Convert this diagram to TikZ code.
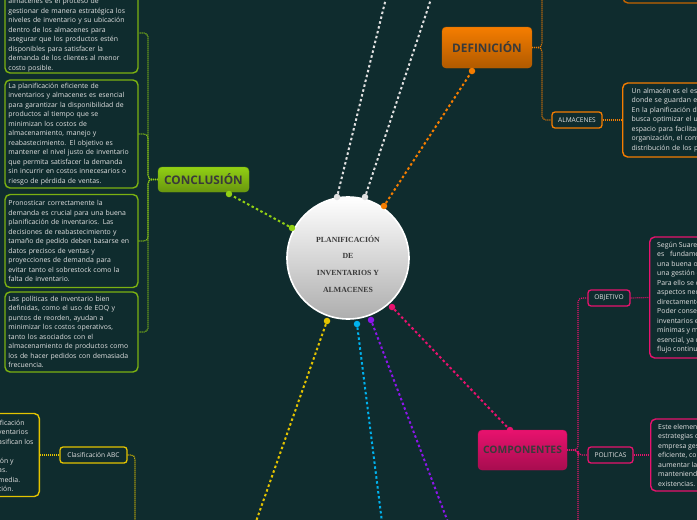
\documentclass[tikz,border=0pt]{standalone}
\usepackage{fontspec}
\setmainfont{Open Sans}
\newfontfamily\serifa{Liberation Serif}
\usetikzlibrary{calc}
\definecolor{fondo}{RGB}{15,44,46}
\definecolor{lima}{RGB}{145,208,20}
\definecolor{naranja}{RGB}{245,125,0}
\definecolor{rosa}{RGB}{232,18,110}
\definecolor{amarillo}{RGB}{228,196,0}
\definecolor{celeste}{RGB}{0,178,238}
\definecolor{morado}{RGB}{140,22,235}
\definecolor{blanco}{RGB}{225,225,225}
\definecolor{gristexto}{RGB}{58,58,58}
\tikzset{
    rama/.style={line width=2pt, dash pattern=on 2.5pt off 2.5pt},
    hilo/.style={line width=1.2pt, dash pattern=on 1pt off 1pt, rounded corners=4pt},
    punto/.style={circle, fill=#1, inner sep=0pt, minimum size=6.5pt},
    tema/.style={rounded corners=4pt, draw=#1!80!black, top color=#1, bottom color=#1!72!black,
        text=gristexto, inner sep=0pt, font=\bfseries\fontsize{11.8}{12}\selectfont},
    etiqueta/.style={rounded corners=3pt, draw=#1, line width=1.3pt, fill=fondo, inner sep=0pt,
        minimum height=16pt, text=blanco, font=\fontsize{6.6}{7}\selectfont},
    texto/.style={rounded corners=5pt, draw=#1, line width=1.4pt, fill=fondo, inner sep=0pt,
        text=blanco, align=left, font=\fontsize{6.9}{9.5}\selectfont}
}

\begin{document}
\begin{tikzpicture}[x=1pt,y=-1pt]

% --- Fondo ---
\fill[fondo] (0,0) rectangle (697,520);
\useasboundingbox (0,0) rectangle (697,520);
\clip (0,0) rectangle (697,520);

% --- Centro ---
\node[circle, minimum size=122pt, inner sep=0pt, draw=white, line width=1.6pt,
    top color=white, bottom color=black!32] (centro) at (348,258) {};
\node[font=\serifa\bfseries\fontsize{7.8}{16.8}\selectfont, text=gristexto, align=center]
    (titulo) at (348,264) {PLANIFICACIÓN\\DE\\INVENTARIOS Y\\ALMACENES};

% --- Temas ---
\node[tema=lima, minimum width=91pt, minimum height=25pt] (conclusion) at (203.5,179.5) {CONCLUSIÓN};
\node[tema=naranja, minimum width=90pt, minimum height=41pt] (definicion) at (487,47.5) {DEFINICIÓN};
\node[tema=rosa, minimum width=89pt, minimum height=40pt, font=\bfseries\fontsize{10.3}{11}\selectfont]
    (componentes) at (522.5,450) {COMPONENTES};

% --- Ramas principales ---
\node[punto=lima] (c1) at (292,228) {};
\node[punto=lima] (c2) at (229,194) {};
\draw[rama,lima] (c1) -- (c2);

\node[punto=naranja] (d1) at (384,206) {};
\node[punto=naranja] (d2) at (472,71) {};
\draw[rama,naranja] (d1) -- (d2);

\node[punto=blanco] (w1) at (337,197) {};
\coordinate (w1b) at (388,-10);
\draw[rama,blanco] (w1) -- (w1b);
\node[punto=blanco] (w2) at (365,197) {};
\coordinate (w2b) at (434,-10);
\draw[rama,blanco] (w2) -- (w2b);

\node[punto=rosa] (r1) at (392,307) {};
\node[punto=rosa] (r2) at (510,430) {};
\draw[rama,rosa] (r1) -- (r2);

\node[punto=amarillo] (a1) at (327,321) {};
\coordinate (a2) at (253,530);
\draw[rama,amarillo] (a1) -- (a2);

\node[punto=celeste] (e1) at (357,324) {};
\coordinate (e2) at (383,530);
\draw[rama,celeste] (e1) -- (e2);

\node[punto=morado] (m1) at (371,320) {};
\coordinate (m2) at (451,530);
\draw[rama,morado] (m1) -- (m2);

% --- Conclusión ---
\node[texto=lima!85!black, text width=126pt, minimum width=133pt, minimum height=80pt] (caja1) at (71.5,33) {\mbox{}\\
almacenes es el proceso de\\
gestionar de manera estratégica los\\
niveles de inventario y su ubicación\\
dentro de los almacenes para\\
asegurar que los productos estén\\
disponibles para satisfacer la\\
demanda de los clientes al menor\\
costo posible.};
\node[texto=lima!85!black, text width=126pt, minimum width=133pt, minimum height=108pt] (caja2) at (71.5,134) {%
La planificación eficiente de\\
inventarios y almacenes es esencial\\
para garantizar la disponibilidad de\\
productos al tiempo que se\\
minimizan los costos de\\
almacenamiento, manejo y\\
reabastecimiento. El objetivo es\\
mantener el nivel justo de inventario\\
que permita satisfacer la demanda\\
sin incurrir en costos innecesarios o\\
riesgo de pérdida de ventas.};
\node[texto=lima!85!black, text width=126pt, minimum width=133pt, minimum height=93pt] (caja3) at (71.5,241) {%
Pronosticar correctamente la\\
demanda es crucial para una buena\\
planificación de inventarios. Las\\
decisiones de reabastecimiento y\\
tamaño de pedido deben basarse en\\
datos precisos de ventas y\\
proyecciones de demanda para\\
evitar tanto el sobrestock como la\\
falta de inventario.};
\node[texto=lima!85!black, text width=126pt, minimum width=133pt, minimum height=80pt] (caja4) at (71.5,332) {%
Las políticas de inventario bien\\
definidas, como el uso de EOQ y\\
puntos de reorden, ayudan a\\
minimizar los costos operativos,\\
tanto los asociados con el\\
almacenamiento de productos como\\
los de hacer pedidos con demasiada\\
frecuencia.};
\foreach \n in {caja1,caja2,caja3,caja4}
    \draw[hilo,lima] (conclusion.west) -- (148,179.5) |- (\n.east);

% --- Definición ---
\node[texto=naranja!80!black, minimum width=140pt, minimum height=46pt] (definicion1) at (693,-20) {};
\node[etiqueta=naranja, minimum width=50pt] (almacenes) at (577,120) {ALMACENES};
\node[texto=naranja, text width=140pt, minimum width=150pt, minimum height=74pt, anchor=west]
    (almacenestxt) at (622,120) {\hspace*{4pt}%
\parbox{140pt}{Un almacén es el espacio\\
donde se guardan existencias\\
En la planificación de\\
busca optimizar el uso\\
espacio para facilitar\\
organización, el control\\
distribución de los productos}};
\draw[hilo,naranja] (definicion.east) -- (542,47.5) |- (definicion1.west);
\draw[hilo,naranja] (definicion.east) -- (542,47.5) |- (almacenes.west);
\draw[hilo,naranja] (almacenes.east) -- (almacenestxt.west);

% --- Componentes ---
\node[etiqueta=rosa, minimum width=42pt] (objetivo) at (609,298) {OBJETIVO};
\node[texto=rosa, minimum width=150pt, minimum height=121pt, anchor=west]
    (objetivotxt) at (649,297.5) {\hspace*{5pt}%
\parbox{140pt}{Según Suarez\\
es\hspace{4pt} fundamental\\
una buena organización\\
una gestión de\\
Para ello se deben\\
aspectos necesarios\\
directamente\\
Poder conservar\\
inventarios en\\
mínimas y máximas\\
esencial, ya que\\
flujo continuo}};
\node[etiqueta=rosa, minimum width=45pt] (politicas) at (610.5,455) {POLITICAS};
\node[texto=rosa, minimum width=150pt, minimum height=72pt, anchor=west]
    (politicastxt) at (650,455) {\hspace*{5pt}%
\parbox{140pt}{Este elemento\\
estrategias de\\
empresa gestionar\\
eficiente, como\\
aumentar la\\
manteniendo\\
existencias.}};
\coordinate (componentes3) at (590,560);
\draw[hilo,rosa] (componentes.east) -- (578,450) |- (objetivo.west);
\draw[hilo,rosa] (componentes.east) -- (578,450) |- (politicas.west);
\draw[hilo,rosa] (componentes.east) -- (578,450) |- (componentes3);
\draw[hilo,rosa] (objetivo.east) -- (objetivotxt.west);
\draw[hilo,rosa] (politicas.east) -- (politicastxt.west);

% --- Rama amarilla ---
\node[etiqueta=amarillo, minimum width=67pt] (clasificacion) at (93.5,455) {Clasificación ABC};
\node[texto=amarillo, minimum width=140pt, minimum height=83pt, anchor=east] (cajaabc) at (40,455) {};
\node[text=blanco, align=left, font=\fontsize{6.9}{9.5}\selectfont, inner sep=0pt, anchor=north west]
    (cajaabctxt) at (-2,420) {ificación\\ventarios\\asifican los\\\mbox{}\\ión y\\as.\\media.\\ción.};
\coordinate (amarillo3) at (135,560);
\draw[hilo,amarillo] (cajaabc.east) -- (clasificacion.west);
\draw[hilo,amarillo] (clasificacion.east) -| (amarillo3);

\end{tikzpicture}
\end{document}
